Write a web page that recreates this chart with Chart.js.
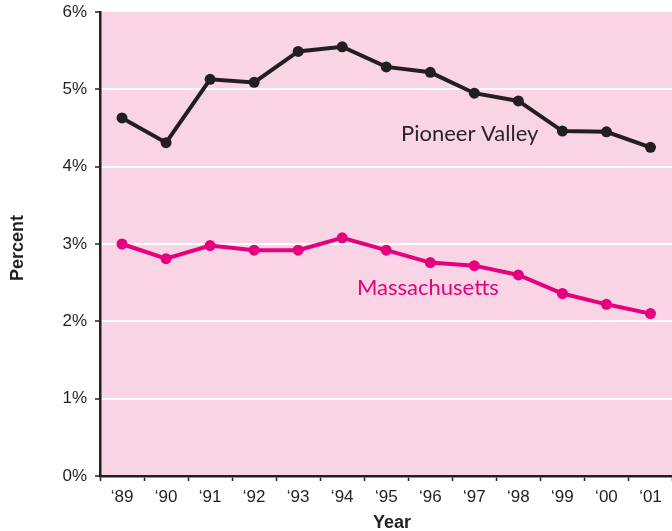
<!DOCTYPE html>
<html>
<head>
<meta charset="utf-8">
<script src="https://cdn.jsdelivr.net/npm/chart.js@4.4.1/dist/chart.umd.min.js"></script>
<style>
  html, body { margin: 0; padding: 0; overflow: hidden; background: #ffffff; }
  #wrap { width: 678px; height: 531px; }
</style>
</head>
<body>
<div id="wrap"><canvas id="c" width="678" height="531"></canvas></div>
<script>
// Unemployment-style rate by year, in percent
const years = ['\u201889', '\u201890', '\u201891', '\u201892', '\u201893', '\u201894', '\u201895',
               '\u201896', '\u201897', '\u201898', '\u201899', '\u201800', '\u201801'];
const pioneerValley = [4.63, 4.31, 5.13, 5.09, 5.49, 5.55, 5.29, 5.22, 4.95, 4.85, 4.46, 4.45, 4.25];
const massachusetts = [3.00, 2.81, 2.98, 2.92, 2.92, 3.08, 2.92, 2.76, 2.72, 2.60, 2.36, 2.22, 2.10];
const yTicks = [0, 1, 2, 3, 4, 5, 6];

const DARK = '#231f20';
const PINK = '#e5007d';
const PANEL = '#f9d4e5';
const TICK_FONT = { family: '"Liberation Sans", Arial, sans-serif', size: 17 };

// Pink plot panel, axis titles and series names
const decorations = {
  id: 'decorations',
  beforeDraw(chart) {
    const { ctx, chartArea: a } = chart;
    ctx.save();
    ctx.fillStyle = PANEL;
    ctx.fillRect(a.left, a.top, a.right - a.left, a.bottom - a.top);
    ctx.restore();
  },
  afterDraw(chart) {
    const { ctx } = chart;
    ctx.save();
    ctx.fillStyle = DARK;
    ctx.font = 'bold 18px "Liberation Sans", Arial, sans-serif';
    ctx.textAlign = 'center';
    ctx.textBaseline = 'alphabetic';
    ctx.fillText('Year', 392, 528);
    ctx.translate(23, 248);
    ctx.rotate(-Math.PI / 2);
    ctx.fillText('Percent', 0, 0);
    ctx.restore();

    ctx.save();
    ctx.textAlign = 'left';
    ctx.textBaseline = 'alphabetic';
    ctx.font = '22px Lato, "Open Sans", sans-serif';
    ctx.fillStyle = '#2b2527';
    ctx.fillText('Pioneer Valley', 401, 141);
    ctx.fillStyle = PINK;
    ctx.fillText('Massachusetts', 357, 295);
    ctx.restore();
  }
};

new Chart(document.getElementById('c'), {
  type: 'line',
  data: {
    labels: years,
    datasets: [
      {
        label: 'Pioneer Valley',
        data: pioneerValley,
        borderColor: DARK,
        backgroundColor: DARK,
        borderWidth: 4,
        pointRadius: 5.5,
        pointBorderWidth: 0,
        tension: 0
      },
      {
        label: 'Massachusetts',
        data: massachusetts,
        borderColor: PINK,
        backgroundColor: PINK,
        borderWidth: 4,
        pointRadius: 5.5,
        pointBorderWidth: 0,
        tension: 0
      }
    ]
  },
  options: {
    responsive: false,
    animation: false,
    layout: { padding: { top: 12, right: 0, bottom: 0, left: 0 } },
    plugins: { legend: { display: false }, tooltip: { enabled: false } },
    scales: {
      x: {
        type: 'category',
        offset: true,
        grid: {
          offset: true,
          drawOnChartArea: false,
          drawTicks: true,
          tickLength: 5,
          tickColor: DARK,
          tickWidth: 1.5
        },
        border: { display: true, color: DARK, width: 2.5 },
        ticks: {
          color: DARK,
          font: TICK_FONT,
          padding: 6,
          maxRotation: 0,
          autoSkip: false
        },
        afterFit(scale) {
          scale.height = 55;
          scale.paddingLeft = 0;
          scale.paddingRight = 0;
        }
      },
      y: {
        min: 0,
        max: 6,
        afterBuildTicks(scale) { scale.ticks = yTicks.map(v => ({ value: v })); },
        grid: {
          color: (c) => (c.tick && c.tick.value > 0 && c.tick.value < 6) ? '#ffffff' : 'rgba(0,0,0,0)',
          lineWidth: 2,
          drawTicks: true,
          tickLength: 5,
          tickColor: DARK,
          tickWidth: 1.5
        },
        border: { display: true, color: DARK, width: 2.5 },
        ticks: {
          color: DARK,
          font: TICK_FONT,
          padding: 8,
          callback: (v) => v + '%'
        },
        afterFit(scale) {
          scale.width = 100;
          scale.paddingTop = 0;
          scale.paddingBottom = 0;
        }
      }
    }
  },
  plugins: [decorations]
});
</script>
</body>
</html>
